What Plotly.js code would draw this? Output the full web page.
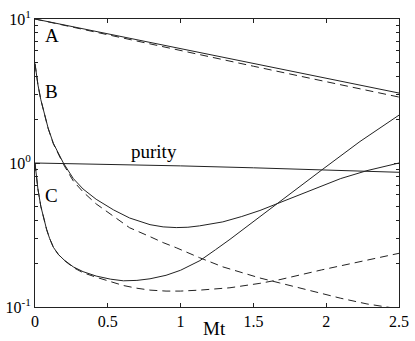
<!DOCTYPE html>
<html>
<head>
<meta charset="utf-8">
<script src="https://cdn.plot.ly/plotly-3.0.1.min.js"></script>
<style>
  html, body { margin: 0; padding: 0; background: #fff; }
  #plot { width: 415px; height: 341px; }
</style>
</head>
<body>
<div id="plot"></div>
<script>
// values (Mt on x, log y)
const mtA = [0, 0.5, 1.0, 1.5, 2.0, 2.5];
const aSolid = [10, 7.9, 6.2, 4.9, 3.88, 3.06];
const aDashed = [10, 7.75, 6.02, 4.7, 3.67, 2.87];

const mtB = [0, 0.02, 0.04, 0.057, 0.09, 0.126, 0.16, 0.195, 0.263, 0.33, 0.42, 0.54, 0.65, 0.79, 0.88, 0.97, 1.05, 1.13, 1.29, 1.42, 1.545, 1.68, 1.81, 1.94, 2.1, 2.28, 2.5];
const bSolid = [4.9, 3.5, 2.75, 2.33, 1.75, 1.37, 1.16, 1.0, 0.78, 0.66, 0.56, 0.472, 0.415, 0.373, 0.36, 0.356, 0.358, 0.366, 0.39, 0.425, 0.468, 0.53, 0.6, 0.68, 0.78, 0.885, 1.0];
const bDashed = [4.9, 3.5, 2.75, 2.33, 1.74, 1.36, 1.15, 0.98, 0.75, 0.63, 0.52, 0.424, 0.355, 0.308, 0.28, 0.258, 0.238, 0.22, 0.19, 0.173, 0.159, 0.147, 0.136, 0.126, 0.115, 0.105, 0.097];

const mtC = [0, 0.01, 0.02, 0.04, 0.06, 0.08, 0.1, 0.126, 0.16, 0.2, 0.263, 0.33, 0.42, 0.52, 0.607, 0.7, 0.79, 0.9, 1.0, 1.133, 1.24, 1.339, 1.545, 1.683, 1.969, 2.232, 2.5];
const cSolid = [1.0, 0.8, 0.66, 0.5, 0.41, 0.345, 0.3, 0.26, 0.232, 0.212, 0.19, 0.176, 0.164, 0.156, 0.152, 0.153, 0.157, 0.166, 0.18, 0.21, 0.25, 0.295, 0.424, 0.538, 0.894, 1.41, 2.15];
const mtCd = [0, 0.01, 0.02, 0.04, 0.06, 0.08, 0.1, 0.126, 0.16, 0.2, 0.263, 0.33, 0.42, 0.52, 0.607, 0.7, 0.79, 0.9, 1.0, 1.133, 1.339, 1.545, 1.683, 1.969, 2.232, 2.5];
const cDashed = [1.0, 0.8, 0.66, 0.5, 0.41, 0.345, 0.3, 0.26, 0.232, 0.211, 0.188, 0.173, 0.161, 0.15, 0.141, 0.135, 0.131, 0.129, 0.129, 0.131, 0.136, 0.146, 0.155, 0.181, 0.206, 0.236];

const mtPurity = [0, 0.5, 1.0, 1.5, 2.0, 2.5];
const purity = [1.0, 0.98, 0.955, 0.926, 0.893, 0.862];

const xTicks = [0, 0.5, 1, 1.5, 2, 2.5];
const xTickText = ['0', '0.5', '1', '1.5', '2', '2.5'];
const yTicks = [0.1, 1, 10];
const yTickText = ['10<sup>-1</sup>', '10<sup>0</sup>', '10<sup>1</sup>'];

const curveLabels = [
  { text: 'A', x: 0.115, y: 0.885 },
  { text: 'B', x: 0.115, y: 0.495 },
  { text: 'C', x: 0.115, y: -0.229 },
  { text: 'purity', x: 0.82, y: 0.08 }
];

const ink = '#222';
const serif = 'Liberation Serif';

function line(x, y, dashed) {
  return {
    x: x, y: y, type: 'scatter', mode: 'lines',
    line: { color: ink, width: 1, dash: dashed ? '8px,5px' : 'solid' },
    hoverinfo: 'skip'
  };
}

const traces = [
  line(mtA, aSolid, false),
  line(mtA, aDashed, true),
  line(mtB, bSolid, false),
  line(mtB, bDashed, true),
  line(mtC, cSolid, false),
  line(mtCd, cDashed, true),
  line(mtPurity, purity, false)
];

const annotations = curveLabels.map(l => ({
  text: l.text, x: l.x, y: l.y, xref: 'x', yref: 'y',
  showarrow: false, font: { family: serif, size: 19, color: '#000' }
}));
annotations.push({
  text: 'Mt', xref: 'paper', yref: 'paper', x: 0.493, y: -0.076,
  xanchor: 'center', yanchor: 'middle', showarrow: false, borderpad: 0,
  font: { family: serif, size: 19, color: '#000' }
});

const layout = {
  width: 415, height: 341,
  margin: { l: 35, r: 16, t: 19, b: 34 },
  paper_bgcolor: '#fff', plot_bgcolor: '#fff',
  showlegend: false,
  font: { family: serif, size: 16, color: '#000' },
  xaxis: {
    range: [0, 2.5], tickvals: xTicks, ticktext: xTickText,
    ticks: 'inside', ticklen: 4, tickcolor: ink,
    tickfont: { family: serif, size: 16, color: '#000' },
    showline: true, linecolor: ink, linewidth: 1, mirror: 'ticks',
    showgrid: false, zeroline: false
  },
  yaxis: {
    type: 'log', range: [-1, 1], tickvals: yTicks, ticktext: yTickText,
    ticks: 'inside', ticklen: 5, tickcolor: ink,
    tickfont: { family: serif, size: 16, color: '#000' },
    showline: true, linecolor: ink, linewidth: 1, mirror: 'ticks',
    showgrid: false, zeroline: false,
    minor: { dtick: 'D1', ticks: 'inside', ticklen: 3, tickcolor: ink, showgrid: false }
  },
  annotations: annotations
};

Plotly.newPlot('plot', traces, layout, { displayModeBar: false, staticPlot: true });
</script>
</body>
</html>
